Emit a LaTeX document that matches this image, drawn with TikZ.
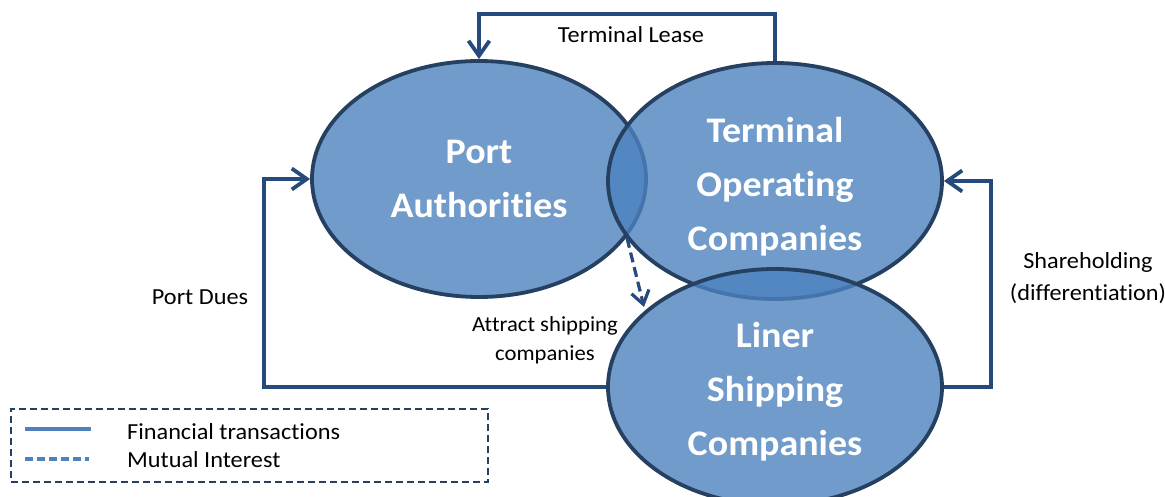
\documentclass[tikz,border=0pt]{standalone}
\usepackage{fontspec}
\setmainfont{Carlito}[Ligatures=NoCommon, FakeStretch=1.055]
\usetikzlibrary{shapes.geometric,arrows.meta}
\definecolor{ovalfill}{RGB}{76,130,190}
\definecolor{ovaledge}{RGB}{37,64,97}
\definecolor{linkblue}{RGB}{38,74,124}
\definecolor{keyblue}{RGB}{79,129,189}
\begin{document}
\begin{tikzpicture}[x=1pt,y=-1pt,
  party/.style={ellipse, draw=ovaledge, line width=3.8pt, fill=ovalfill,
    fill opacity=0.8, minimum width=334pt, minimum height=236pt, inner sep=0pt},
  partyname/.style={inner sep=0pt, text=white, align=center,
    font=\bfseries\fontsize{36}{54}\selectfont},
  money/.style={draw=linkblue, line width=3.8pt,
    -{Straight Barb[length=15pt,width=21pt,line width=3.8pt]}},
  interest/.style={draw=linkblue, line width=3.2pt, dash pattern=on 10pt off 5pt,
    -{Straight Barb[length=13pt,width=18pt,line width=3.2pt]}},
  lbl/.style={inner sep=0pt, align=center, font=\fontsize{23}{32}\selectfont},
  smalllbl/.style={inner sep=0pt, align=center, font=\fontsize{21.5}{29}\selectfont},
  keyline/.style={draw=keyblue, line width=3.2pt},
]
\useasboundingbox (0,0) rectangle (1165,497);
\clip (0,0) rectangle (1165,497);

% the three parties
\node[party] (pa)  at (479,179) {};
\node[party] (toc) at (775,181) {};
\node[party] (lsc) at (775,387) {};
\node[partyname] (paname)  at (pa.center) {Port\\Authorities};
\node[partyname] (tocname) at ([yshift=-6pt]toc.center) {Terminal\\Operating\\Companies};
\node[partyname] (lscname) at ([yshift=-5pt]lsc.center) {Liner\\Shipping\\Companies};

% financial flows
\draw[money] (toc.north) -- ++(0,-47) -| (pa.north);
\draw[money] (lsc.west) -- ++(-342,0) |- (pa.west);
\draw[money] (lsc.east) -- ++(47,0) |- (toc.east);

% mutual interest
\coordinate (mi) at (627,238);
\coordinate (mt) at (644,307);
\draw[interest] (mi) -- (mt);

% flow labels
\node[lbl] (lease) at (631,35) {Terminal Lease};
\node[lbl] (dues) at (200,297) {Port Dues};
\node[lbl] (share) at (1088,278) {Shareholding\\(differentiation)};
\node[smalllbl] (attract) at (545,340) {Attract shipping\\companies};

% legend
\node[draw=ovaledge, dash pattern=on 7pt off 4pt, line width=2pt, minimum width=477pt,
  minimum height=73pt, anchor=north west, inner sep=0pt] (key) at (10,408) {};
\coordinate (fa) at (25,429);
\coordinate (fb) at (91,429);
\coordinate (ma) at (25,459);
\coordinate (mb) at (89,459);
\draw[keyline] (fa) -- (fb);
\draw[keyline, dash pattern=on 8pt off 4pt] (ma) -- (mb);
\node[lbl, anchor=west] (fin) at (127,432) {Financial transactions};
\node[lbl, anchor=west] (mut) at (127,460) {Mutual Interest};
\end{tikzpicture}
\end{document}
